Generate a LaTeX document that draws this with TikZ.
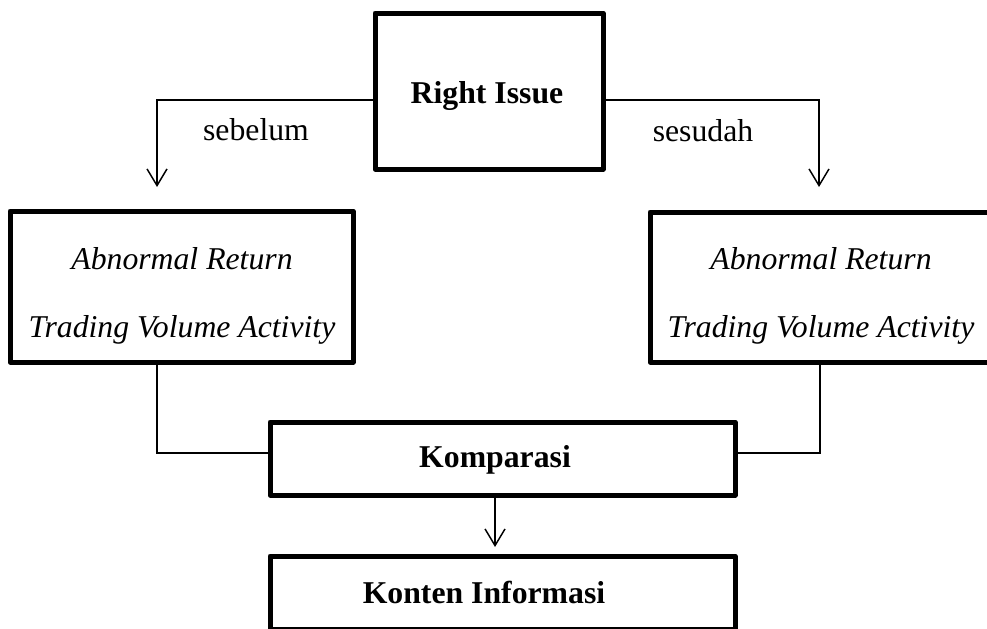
\documentclass[tikz,border=0pt]{standalone}
\usepackage{fontspec}
\setmainfont{Liberation Serif}
\usetikzlibrary{arrows.meta}
\begin{document}
\begin{tikzpicture}[x=0.75pt,y=-0.75pt,
  box/.style={draw,line width=3.75pt,line join=round,inner sep=0pt,outer sep=0pt},
  conn/.style={line width=1.1pt},
  arr/.style={conn,-{Straight Barb[length=12.5pt,width=15pt,line width=1.1pt]}},
  txt/.style={font=\fontsize{23.8}{28}\selectfont,inner sep=0pt,anchor=base},
  btxt/.style={font=\fontsize{23.8}{28}\selectfont\bfseries,inner sep=0pt,anchor=base},
  itxt/.style={font=\fontsize{23.8}{28}\selectfont\itshape,inner sep=0pt,anchor=base}]
\useasboundingbox (0,0) rectangle (987,628);
\clip (0,0) rectangle (987,628);
% boxes
\node[box,minimum width=171pt,minimum height=117pt] (ri) at (489,91) {};
\node[box,minimum width=257.25pt,minimum height=113.25pt] (lb) at (181.5,286.5) {};
\node[box,minimum width=256.5pt,minimum height=112.5pt] (rb) at (821,287) {};
\node[box,minimum width=348.75pt,minimum height=54.75pt] (kp) at (502.5,458.5) {};
\node[box,minimum width=348.75pt,minimum height=54.75pt] (kn) at (502.5,592.5) {};
% box texts
\node[btxt] (rit) at (487,103) {Right Issue};
\node[itxt] (l1) at (182,269) {Abnormal Return};
\node[itxt] (l2) at (182,337) {Trading Volume Activity};
\node[itxt] (r1) at (821,269) {Abnormal Return};
\node[itxt] (r2) at (821,337) {Trading Volume Activity};
\node[btxt] (kpt) at (495,467) {Komparasi};
\node[btxt] (knt) at (484,603) {Konten Informasi};
% labels
\node[txt] (sb) at (256,140) {sebelum};
\node[txt] (ss) at (703,141) {sesudah};
% arrow ends
\coordinate (la) at (157,187);
\coordinate (ra) at (819,187);
\coordinate (lj) at (157,453);
\coordinate (rj) at (820,453);
\coordinate (ma) at (495,0);
% connectors
\draw[arr] ([yshift=-6.75pt]ri.west) -| (la);
\draw[arr] ([yshift=-6.75pt]ri.east) -| (ra);
\draw[conn] (lb.south -| lj) -- (lj) -- (lj -| kp.west);
\draw[conn] (rb.south -| rj) -- (rj) -- (rj -| kp.east);
\draw[arr] (kp.south -| ma) -- ([yshift=6.75pt]kn.north -| ma);
\end{tikzpicture}
\end{document}
